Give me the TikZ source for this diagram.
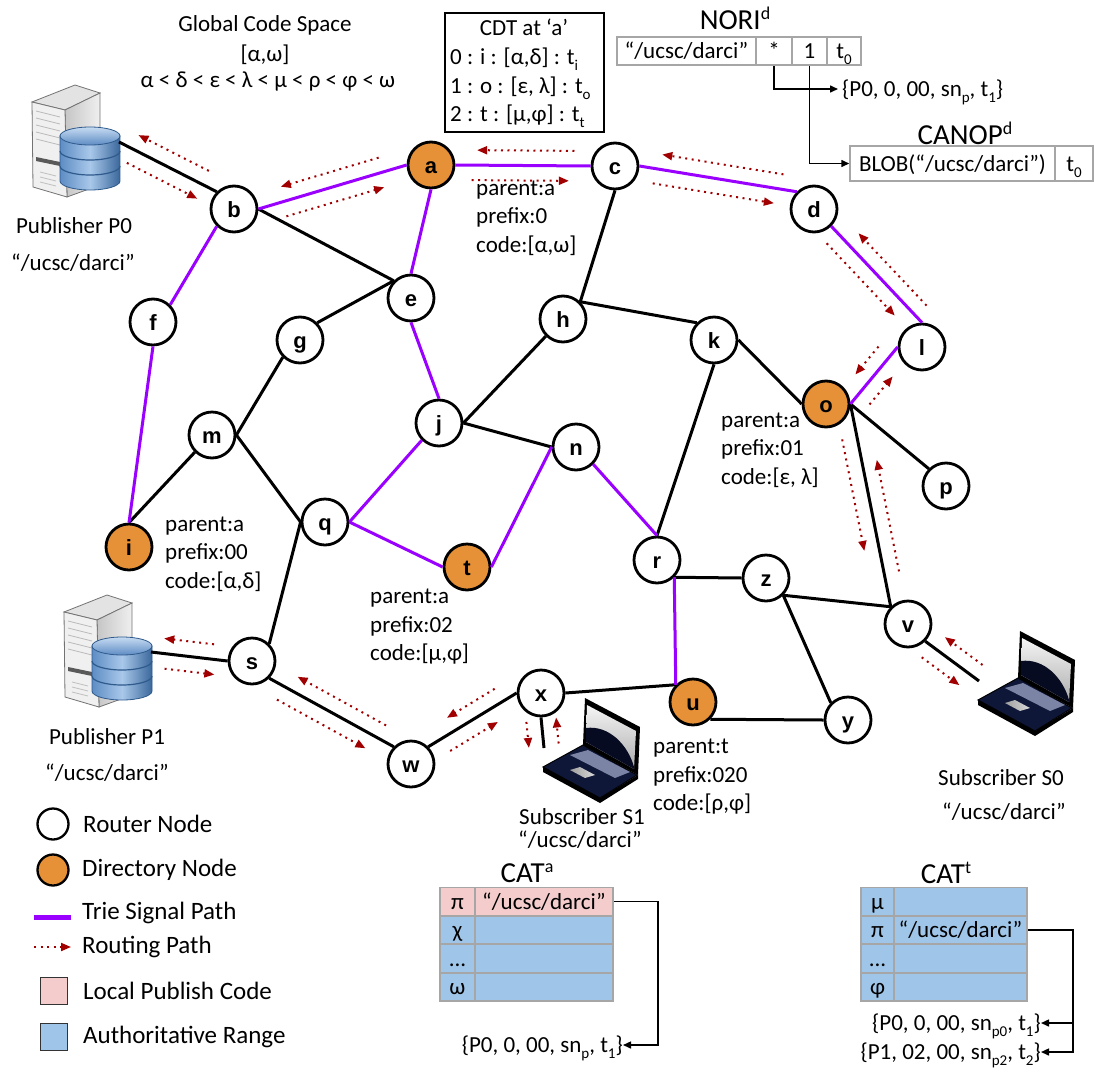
\documentclass[tikz,border=0pt]{standalone}
\usepackage{fontspec}
\setmainfont{Carlito}
\newfontfamily\letterfont{Liberation Sans}
\usetikzlibrary{arrows.meta,calc}

\definecolor{dirorange}{HTML}{E69138}
\definecolor{triepurple}{HTML}{9900FF}
\definecolor{routered}{HTML}{A00000}
\definecolor{pubpink}{HTML}{F4CCCC}
\definecolor{authblue}{HTML}{9FC5E8}
\definecolor{cellgray}{HTML}{A6A6A6}
\definecolor{dbdark}{HTML}{3A679C}
\definecolor{dbside}{HTML}{5D8CC4}
\definecolor{dblight}{HTML}{A9C8EA}
\definecolor{dbtop}{HTML}{C7DBF2}
\definecolor{dbedge}{HTML}{2F5A8C}
\definecolor{basenavy}{HTML}{0E1738}
\definecolor{screennavy}{HTML}{070B22}
\definecolor{keyblue}{HTML}{7C84A6}

\newcommand{\lowtxt}[1]{\raisebox{-6pt}{\fontsize{15}{15}\selectfont #1}}
\newcommand{\hightxt}[1]{\raisebox{10pt}{\fontsize{18}{18}\selectfont #1}}
\newcommand{\topicname}{“/ucsc/darci”}
% pair of routing arrows along a link, one on each side (right-hand traffic)
\newcommand{\routes}[4]{%
  \draw[route] ($(#1)!#3!(#2) + (#1)!15pt!-90:(#2) - (#1)$)
            -- ($(#1)!#4!(#2) + (#1)!15pt!-90:(#2) - (#1)$);
  \draw[route] ($(#2)!#3!(#1) + (#2)!15pt!-90:(#1) - (#2)$)
            -- ($(#2)!#4!(#1) + (#2)!15pt!-90:(#1) - (#2)$);}

\begin{document}
\begin{tikzpicture}[
    x=1pt, y=-1pt,
    router/.style={circle, draw=black, line width=2.8pt, fill=white,
        minimum size=46pt, inner sep=0pt, text height=17pt, text depth=0pt,
        font=\letterfont\bfseries\fontsize{22}{22}\selectfont},
    dirnode/.style={router, fill=dirorange},
    link/.style={line width=3pt, black},
    trie/.style={line width=3pt, triepurple},
    route/.style={routered, line width=2pt, dash pattern=on 2pt off 4.5pt,
        -{Triangle[length=10pt, width=8pt]}},
    txt/.style={inner sep=0pt, font=\fontsize{23}{28.5}\selectfont},
    info/.style={txt, align=left, anchor=west},
    title/.style={inner sep=0pt, anchor=base, font=\fontsize{29}{30}\selectfont},
    keytxt/.style={inner sep=0pt, anchor=west, font=\fontsize{25}{30}\selectfont},
    cell/.style={txt, draw=cellgray, line width=1.5pt, minimum height=28pt,
        text height=16pt, text depth=1pt},
    record/.style={txt, text height=16pt, text depth=2pt},
    tblarr/.style={line width=1.5pt, -{Triangle[length=8pt, width=7pt]}},
    server/.pic={
        % tower: top, side, front
        \fill[gray!22, draw=black!55, line width=0.8pt]
            (-58,-56) -- (-15,-73) -- (10,-65) -- (-25,-48) -- cycle;
        \shade[left color=gray!45, right color=gray!12, draw=black!55, line width=0.8pt]
            (-25,-48) -- (10,-65) -- (10,27) -- (-23,39) -- cycle;
        \fill[gray!12, draw=black!55, line width=0.8pt]
            (-58,-56) -- (-25,-48) -- (-23,39) -- (-57,29) -- cycle;
        \foreach \k in {0,...,4}
            \draw[gray!55, line width=0.8pt] (-54,{-47+7*\k}) -- (-30,{-41+7*\k});
        \fill[black!65] (-54,-1) -- (-30,4) -- (-30,8) -- (-54,3) -- cycle;
        \foreach \k in {0,1,2}
            \draw[gray!50, line width=0.8pt] (-50,{14+5*\k}) -- (-34,{18+5*\k});
        % database
        \shade[left color=dbside, right color=dbdark, middle color=dblight,
               draw=dbedge, line width=0.8pt]
            (-30,-22) -- (-30,23) arc[start angle=180, end angle=360,
            x radius=30pt, y radius=9pt] -- (30,-22) -- cycle;
        \foreach \yy in {-7,8}
            \draw[dbedge, line width=1.2pt] (-30,\yy) arc[start angle=180,
                end angle=360, x radius=30pt, y radius=9pt];
        \shade[top color=dbtop, bottom color=dbside, draw=dbedge, line width=0.8pt]
            (0,-22) ellipse[x radius=30pt, y radius=9pt];
        \coordinate (-port) at (29,-16);
    },
    laptop/.pic={
        % lid
        \fill[black] (0,0) -- (2,-47) -- (57,-18) -- (55,30) -- cycle;
        \shade[top color=gray!8, bottom color=gray!65]
            (4,-40) -- (53,-14) -- (51,24) -- (3,-3) -- cycle;
        \fill[screennavy] (3,-17) .. controls (26,-20) and (45,0) .. (51,22)
            -- (51,24) -- (3,-3) -- cycle;
        % base
        \fill[black] (-40,22) -- (-40,27) -- (17,58) -- (55,34) -- (55,30) -- (17,53) -- cycle;
        \fill[basenavy, draw=black, line width=1pt]
            (-40,22) -- (17,53) -- (54,30) -- (0,0) -- cycle;
        \fill[keyblue] (-13,10) -- (5,5) -- (47,27) -- (32,33) -- cycle;
        \shade[left color=gray!75, right color=gray!30]
            (-13,25) -- (-3,22) -- (12,30) -- (2,33) -- cycle;
        \coordinate (-port) at (-39,3);
    },
]

\fill[white] (0,0) rectangle (1094,1076);
\useasboundingbox (0,0) rectangle (1094,1076);

% Hosts
\pic (pub0) at (90,158) {server};
\pic (pub1) at (122,668) {server};
\pic (sub1) at (583,745) {laptop};
\pic (sub0) at (1018,678) {laptop};

% Routers and directory nodes
\node[dirnode] (a) at (431,165) {a};
\node[router]  (b) at (234,209) {b};
\node[router]  (c) at (615,166) {c};
\node[router]  (d) at (814,209) {d};
\node[router]  (e) at (411,298) {e};
\node[router]  (f) at (153,322) {f};
\node[router]  (g) at (300,340) {g};
\node[router]  (h) at (563,319) {h};
\node[dirnode] (i) at (129,547) {i};
\node[router]  (j) at (439,423) {j};
\node[router]  (k) at (714,340) {k};
\node[router]  (l) at (922,347) {l};
\node[router]  (m) at (212,435) {m};
\node[router]  (n) at (576,447) {n};
\node[dirnode] (o) at (826,404) {o};
\node[router]  (p) at (946,486) {p};
\node[router]  (q) at (325,522) {q};
\node[router]  (r) at (657,560) {r};
\node[router]  (s) at (252,661) {s};
\node[dirnode] (t) at (467,567) {t};
\node[dirnode] (u) at (693,702) {u};
\node[router]  (v) at (908,624) {v};
\node[router]  (w) at (411,764) {w};
\node[router]  (x) at (541,693) {x};
\node[router]  (y) at (848,720) {y};
\node[router]  (z) at (766,578) {z};

% Physical links
\draw[link] (pub0-port) -- (b.north west);
\draw[link] (b.east) -- (e.north west);
\draw[link] (g.north east) -- (e.north west);
\draw[link] (g.south west) -- (m.east);
\draw[link] (m.south west) -- (i.north);
\draw[link] (m.east) -- (q.west);
\draw[link] (q.west) -- (s.north east);
\draw[link] (s.west) -- (pub1-port);
\draw[link] (s.south east) -- (w.north west);
\draw[link] (w.north east) -- (x.west);
\draw[link] (x.south) -- (sub1-port);
\draw[link] (x.east) -- (u.north west);
\draw[link] (u.south east) -- (y.west);
\draw[link] (z.south east) -- (y.north west);
\draw[link] (r.south east) -- (z.west);
\draw[link] (z.south east) -- (v.north west);
\draw[link] (k.south) -- (r.north);
\draw[link] (h.north east) -- (k.north west);
\draw[link] (h.north east) -- (c.south);
\draw[link] (j.east) -- (h.south west);
\draw[link] (j.east) -- (n.west);
\draw[link] (k.east) -- (o.west);
\draw[link] (o.east) -- (p.north west);
\draw[link] (o.east) -- (v.north west);
\draw[link] (v.south east) -- (sub0-port);

% Trie signal paths
\draw[trie] (b.east) -- (a.west);
\draw[trie] (a.east) -- (c.west);
\draw[trie] (a.south) -- (e.north);
\draw[trie] (b.south west) -- (f.north east);
\draw[trie] (f.south) -- (i.north);
\draw[trie] (e.south) -- (j.north);
\draw[trie] (q.east) -- (j.south west);
\draw[trie] (q.east) -- (t.west);
\draw[trie] (t.east) -- (n.west);
\draw[trie] (n.south east) -- (r.north);
\draw[trie] (r.south east) -- (u.north west);
\draw[trie] (c.east) -- (d.north west);
\draw[trie] (d.south east) -- (l.north);
\draw[trie] (l.west) -- (o.east);

% Routing paths
\routes{pub0-port}{b.north west}{0.15}{0.87}
\routes{b.east}{a.west}{0.16}{0.82}
\routes{a.east}{c.west}{0.12}{0.84}
\routes{c.east}{d.north west}{0.1}{0.87}
\routes{d.south east}{l.north}{0.07}{0.82}
\routes{l.west}{o.east}{0.16}{0.65}
\routes{o.east}{v.north west}{0.16}{0.71}
\routes{v.south east}{sub0-port}{0.1}{0.8}
\routes{s.west}{pub1-port}{0.2}{0.85}
\routes{s.south east}{w.north west}{0.12}{0.83}
\routes{w.north east}{x.west}{0.16}{0.7}
\routes{x.south}{sub1-port}{0.1}{0.95}

% Node state
\node[info] (a-info) at (476,218) {parent:a\\prefix:0\\code:[α,ω]};
\node[info] (i-info) at (165,554) {parent:a\\prefix:00\\code:[α,δ]};
\node[info] (t-info) at (370,627) {parent:a\\prefix:02\\code:[μ,φ]};
\node[info] (o-info) at (721,450) {parent:a\\prefix:01\\code:[ε, λ]};
\node[info] (u-info) at (653,777) {parent:t\\prefix:020\\code:[ρ,φ]};

% Code space
\node[txt] (gcs)       at (265,25) {Global Code Space};
\node[txt] (gcs-range) at (265,55) {[α,ω]};
\node[txt] (gcs-order) at (268,82) {α < δ < ε < λ < μ < ρ < φ < ω};

% Host labels
\node[txt] (pub0-name)  at (74,226)  {Publisher P0};
\node[txt] (pub0-topic) at (73,263)  {\topicname};
\node[txt] (pub1-name)  at (107,737) {Publisher P1};
\node[txt] (pub1-topic) at (107,773) {\topicname};
\node[txt] (sub1-name)  at (582,817) {Subscriber S1};
\node[txt] (sub1-topic) at (580,840) {\topicname};
\node[txt] (sub0-name)  at (1001,778) {Subscriber S0};
\node[txt] (sub0-topic) at (1004,812) {\topicname};

% CDT at a
\node[draw=black, line width=1.8pt, minimum width=159pt, minimum height=119pt,
    inner sep=0pt] (cdt) at (524.5,72.5) {};
\node[txt, anchor=base] (cdt-title) at (524,35) {CDT at ‘a’};
\node[txt, anchor=base west] (cdt-0) at (450,64)  {0 : i : [α,δ] : t\lowtxt{i}};
\node[txt, anchor=base west] (cdt-1) at (450,93)  {1 : o : [ε, λ] : t\lowtxt{o}};
\node[txt, anchor=base west] (cdt-2) at (450,121) {2 : t : [μ,φ] : t\lowtxt{t}};

% NORI and CANOP at d
\node[title] (nori-title) at (735,29) {NORI\hightxt{d}};
\node[cell, minimum width=139pt] (nori-key)  at (686.5,51) {\topicname};
\node[cell, minimum width=36pt]  (nori-star) at (774,51)   {*};
\node[cell, minimum width=35pt]  (nori-ver)  at (809.5,51) {1};
\node[cell, minimum width=34pt]  (nori-time) at (844,51)   {t\lowtxt{0}};
\node[record, anchor=west] (nori-rec) at (842,89)
    {\{P0, 0, 00, sn\lowtxt{p}, t\lowtxt{1}\}};

\node[title] (canop-title) at (965,144) {CANOP\hightxt{d}};
\node[cell, minimum width=205pt, minimum height=35pt] (canop-blob) at (952.5,163.5)
    {BLOB(\topicname)};
\node[cell, minimum width=38pt, minimum height=35pt] (canop-time) at (1074,163.5)
    {t\lowtxt{0}};

\draw[tblarr, shorten >=4pt] (nori-star.south) |- (nori-rec.west);
\draw[tblarr] (nori-ver.south) |- (canop-blob.west);

% CAT at a
\node[title] (cata-title) at (527,882) {CAT\hightxt{a}};
\node[cell, fill=pubpink,  minimum width=35pt]  (cata-k1) at (457.5,901.5) {π};
\node[cell, fill=pubpink,  minimum width=138pt] (cata-topic) at (544,901.5) {\topicname};
\node[cell, fill=authblue, minimum width=35pt]  (cata-k2) at (457.5,930) {χ};
\node[cell, fill=authblue, minimum width=138pt] (cata-v2) at (544,930) {};
\node[cell, fill=authblue, minimum width=35pt]  (cata-k3) at (457.5,958.5) {...};
\node[cell, fill=authblue, minimum width=138pt] (cata-v3) at (544,958.5) {};
\node[cell, fill=authblue, minimum width=35pt]  (cata-k4) at (457.5,987) {ω};
\node[cell, fill=authblue, minimum width=138pt] (cata-v4) at (544,987) {};
\node[record, anchor=east] (cata-rec) at (623,1045)
    {\{P0, 0, 00, sn\lowtxt{p}, t\lowtxt{1}\}};
\draw[tblarr] (cata-topic.east) -- ++(44,0) |- (cata-rec.east);

% CAT at t
\node[title] (catt-title) at (946,883) {CAT\hightxt{t}};
\node[cell, fill=authblue, minimum width=33pt]  (catt-k1) at (877.5,901.5) {μ};
\node[cell, fill=authblue, minimum width=133pt] (catt-v1) at (960.5,901.5) {};
\node[cell, fill=authblue, minimum width=33pt]  (catt-k2) at (877.5,930) {π};
\node[cell, fill=authblue, minimum width=133pt] (catt-topic) at (960.5,930) {\topicname};
\node[cell, fill=authblue, minimum width=33pt]  (catt-k3) at (877.5,958.5) {...};
\node[cell, fill=authblue, minimum width=133pt] (catt-v3) at (960.5,958.5) {};
\node[cell, fill=authblue, minimum width=33pt]  (catt-k4) at (877.5,987) {φ};
\node[cell, fill=authblue, minimum width=133pt] (catt-v4) at (960.5,987) {};
\node[record, anchor=east] (catt-rec1) at (1041,1023)
    {\{P0, 0, 00, sn\lowtxt{p0}, t\lowtxt{1}\}};
\node[record, anchor=east] (catt-rec2) at (1041,1052)
    {\{P1, 02, 00, sn\lowtxt{p2}, t\lowtxt{2}\}};
\draw[tblarr] (catt-topic.east) -- ++(45,0) coordinate (catt-turn) |- (catt-rec2.east);
\draw[tblarr] (catt-turn) |- (catt-rec1.east);

% Legend
\node[router, minimum size=31pt, line width=2.3pt] (lg-router) at (53,824) {};
\node[keytxt] at (83,824) {Router Node};
\node[dirnode, minimum size=31pt, line width=2.3pt] (lg-dir) at (53,870) {};
\node[keytxt] at (82,870) {Directory Node};
\coordinate (lg-trie-a) at (34,917);
\coordinate (lg-trie-b) at (71,917);
\draw[trie, line width=5pt] (lg-trie-a) -- (lg-trie-b);
\node[keytxt] at (82,913) {Trie Signal Path};
\coordinate (lg-route-a) at (34,947);
\coordinate (lg-route-b) at (71,947);
\draw[route] (lg-route-a) -- (lg-route-b);
\node[keytxt] at (82,947) {Routing Path};
\node[draw=black!80, line width=1.5pt, fill=pubpink, minimum size=27pt,
    inner sep=0pt] (lg-local) at (54,991) {};
\node[keytxt] at (83,991) {Local Publish Code};
\node[draw=black!80, line width=1.5pt, fill=authblue, minimum size=27pt,
    inner sep=0pt] (lg-auth) at (54,1037) {};
\node[keytxt] at (83,1037) {Authoritative Range};

\end{tikzpicture}
\end{document}
